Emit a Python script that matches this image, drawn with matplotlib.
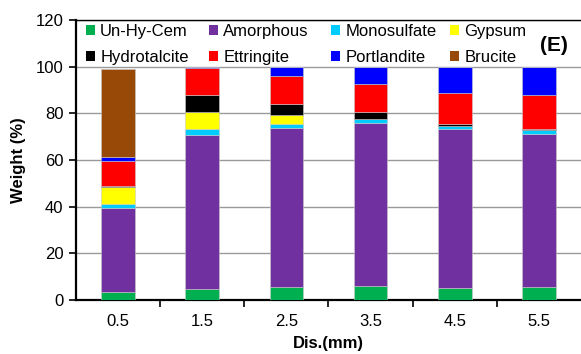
import numpy as np
import matplotlib
matplotlib.use("Agg")
import matplotlib.pyplot as plt

plt.rcParams.update({
    "font.family": ["Liberation Sans", "DejaVu Sans"],
    "font.size": 12,
})

# --- Data: phase assemblage (wt. %) vs. distance from surface ---
distances = ["0.5", "1.5", "2.5", "3.5", "4.5", "5.5"]
phases = ["Un-Hy-Cem", "Amorphous", "Monosulfate", "Gypsum",
          "Hydrotalcite", "Ettringite", "Portlandite", "Brucite"]
colors = ["#00b050", "#7030a0", "#00ccff", "#ffff00",
          "#000000", "#ff0000", "#0000ff", "#984807"]

un_hy_cem    = [3.3, 4.9, 5.4, 5.9, 5.0, 5.6]
amorphous    = [36.3, 66.0, 68.5, 69.8, 68.3, 65.7]
monosulfate  = [1.5, 2.4, 1.5, 1.7, 1.4, 1.6]
gypsum       = [7.5, 7.1, 3.9, 0.0, 0.0, 0.0]
hydrotalcite = [0.3, 7.5, 4.6, 3.0, 0.6, 0.5]
ettringite   = [10.7, 11.5, 12.1, 12.0, 13.4, 14.5]
portlandite  = [1.7, 0.6, 4.0, 7.6, 11.3, 12.1]
brucite      = [37.7, 0.0, 0.0, 0.0, 0.0, 0.0]

series = [un_hy_cem, amorphous, monosulfate, gypsum,
          hydrotalcite, ettringite, portlandite, brucite]

W, H = 581, 354
fig = plt.figure(figsize=(W / 100, H / 100), dpi=100)
ax = fig.add_axes([76 / W, 54 / H, 505 / W, 280 / H])

x = np.arange(len(distances))
bottom = np.zeros(len(distances))
handles = []
for name, vals, col in zip(phases, series, colors):
    vals = np.array(vals)
    b = ax.bar(x, vals, width=0.4, bottom=bottom, color=col,
               edgecolor="#c8c8c8", linewidth=0.4, label=name, zorder=3)
    handles.append(b)
    bottom += vals

ax.set_xlim(-0.5, len(distances) - 0.5)
ax.set_ylim(0, 120)
ax.set_yticks(np.arange(0, 121, 20))
ax.yaxis.grid(True, color="#9a9a9a", linewidth=1.0, zorder=0)
ax.set_axisbelow(True)

# category labels centred, tick marks on the category boundaries
ax.set_xticks(x)
ax.set_xticklabels(distances)
ax.tick_params(axis="x", which="major", length=0, pad=10)
ax.set_xticks(np.arange(0.5, len(distances) - 0.5), minor=True)
ax.tick_params(axis="x", which="minor", length=5, width=1.2, direction="out")
ax.tick_params(axis="y", length=5, width=1.2, direction="out", pad=4)

ax.spines["right"].set_visible(False)
ax.spines["left"].set_linewidth(1.6)
ax.spines["bottom"].set_linewidth(1.6)
ax.spines["top"].set_linewidth(1.0)

ax.set_ylabel("Weight (%)", fontweight="bold", fontsize=12, labelpad=7)
ax.set_xlabel("Dis.(mm)", fontweight="bold", fontsize=12, labelpad=5)

# legend: four fixed-width columns, two entries each
col_left = [86, 209, 331, 450]
for c, left in enumerate(col_left):
    hs = [handles[c], handles[c + 4]]
    labs = [phases[c], phases[c + 4]]
    leg = fig.legend(hs, labs, loc="upper left",
                     bbox_to_anchor=(left / W, (H - 24) / H),
                     frameon=False, fontsize=12, handlelength=0.55,
                     handleheight=0.55, handletextpad=0.3,
                     labelspacing=0.65, borderpad=0, borderaxespad=0)
    for h in leg.legend_handles:
        h.set_edgecolor("none")

ax.text(0.974, 0.91, "(E)", transform=ax.transAxes, ha="right",
        va="center", fontsize=15, fontweight="bold")

fig.savefig("out.png", dpi=100)
